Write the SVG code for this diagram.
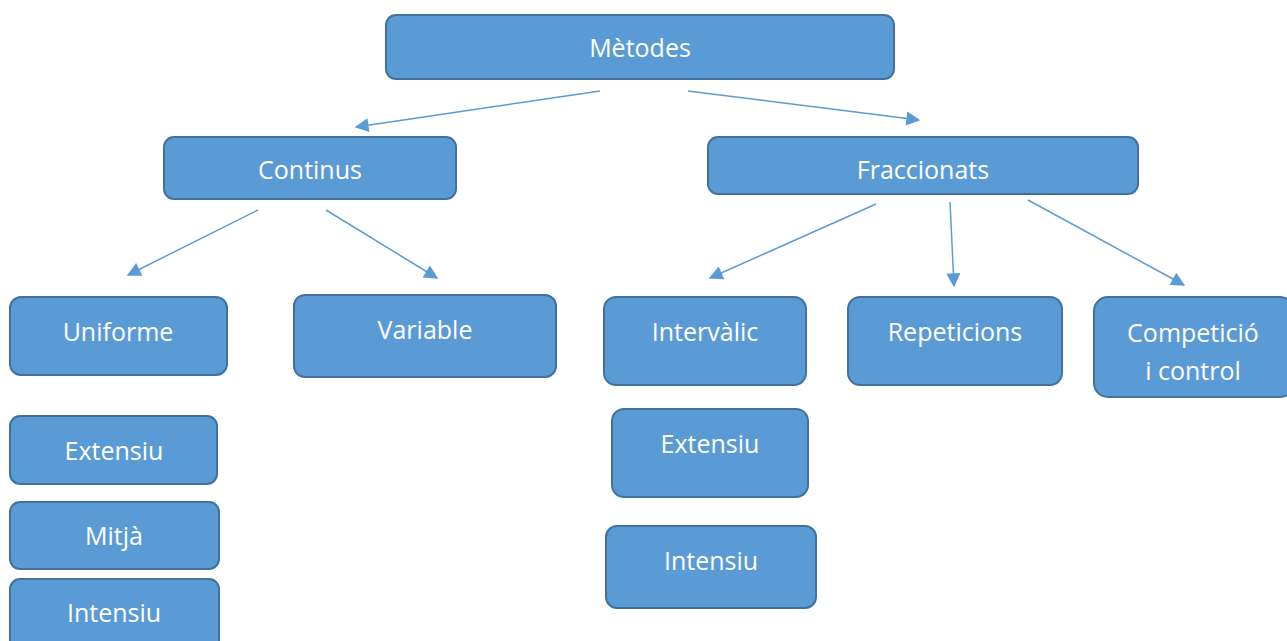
<svg xmlns="http://www.w3.org/2000/svg" width="1287" height="641" viewBox="0 0 1287 641">
<style>
.box{fill:#5B9BD5;stroke:#41719C;stroke-width:2}
.t{fill:#fff;font-family:"Open Sans","Noto Sans",sans-serif;font-size:25px;text-anchor:middle;dominant-baseline:central}
.c{stroke:#5B9BD5;stroke-width:1.5;fill:none;marker-end:url(#ah)}
</style>
<defs>
<marker id="ah" viewBox="0 0 10 10" refX="9" refY="5" markerWidth="16" markerHeight="14" markerUnits="userSpaceOnUse" orient="auto">
<path d="M0,0 L10,5 L0,10 z" fill="#5B9BD5"/>
</marker>
</defs>
<rect width="1287" height="641" fill="#fff"/>
<g id="connectors">
<line class="c" x1="600" y1="91" x2="356" y2="127"/>
<line class="c" x1="688" y1="91" x2="919" y2="120"/>
<line class="c" x1="258" y1="210" x2="128" y2="275"/>
<line class="c" x1="326" y1="210" x2="437" y2="278"/>
<line class="c" x1="876" y1="204" x2="710" y2="278"/>
<line class="c" x1="950" y1="202" x2="954" y2="286"/>
<line class="c" x1="1028" y1="200" x2="1184" y2="285"/>
</g>
<g id="metodes"><rect class="box" x="386" y="15" width="508" height="64" rx="10"/><text class="t" x="640" y="47">Mètodes</text></g>
<g id="continus"><rect class="box" x="164" y="137" width="292" height="62" rx="10"/><text class="t" x="310" y="169">Continus</text></g>
<g id="fraccionats"><rect class="box" x="708" y="137" width="430" height="57" rx="10"/><text class="t" x="923" y="169">Fraccionats</text></g>
<g id="uniforme"><rect class="box" x="10" y="297" width="217" height="78" rx="11"/><text class="t" x="118" y="331">Uniforme</text></g>
<g id="variable"><rect class="box" x="294" y="295" width="262" height="82" rx="11"/><text class="t" x="425" y="329">Variable</text></g>
<g id="intervalic"><rect class="box" x="604" y="297" width="202" height="88" rx="12"/><text class="t" x="705" y="331">Intervàlic</text></g>
<g id="repeticions"><rect class="box" x="848" y="297" width="214" height="88" rx="12"/><text class="t" x="955" y="331">Repeticions</text></g>
<g id="competicio"><rect class="box" x="1094" y="297" width="200" height="100" rx="14"/><text class="t" x="1193" y="332">Competició</text><text class="t" x="1193" y="370">i control</text></g>
<g id="extensiu1"><rect class="box" x="10" y="416" width="207" height="68" rx="10"/><text class="t" x="114" y="450">Extensiu</text></g>
<g id="mitja"><rect class="box" x="10" y="502" width="209" height="67" rx="10"/><text class="t" x="114" y="535">Mitjà</text></g>
<g id="intensiu1"><rect class="box" x="10" y="579" width="209" height="75" rx="10"/><text class="t" x="114" y="612">Intensiu</text></g>
<g id="extensiu2"><rect class="box" x="612" y="409" width="196" height="88" rx="12"/><text class="t" x="710" y="443">Extensiu</text></g>
<g id="intensiu2"><rect class="box" x="606" y="526" width="210" height="82" rx="11"/><text class="t" x="711" y="560">Intensiu</text></g>
</svg>
